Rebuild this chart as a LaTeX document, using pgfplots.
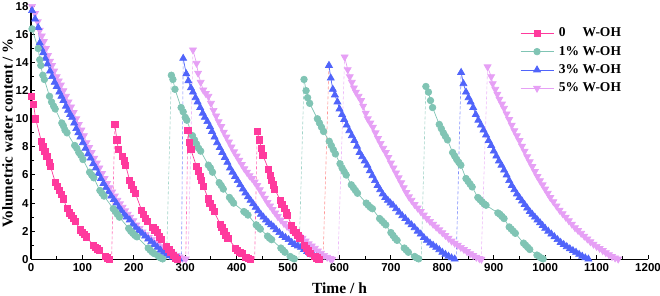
\documentclass[border=0pt]{standalone}
\usepackage{fontspec}
\setmainfont{Liberation Serif}
\setsansfont{Liberation Sans}
\usepackage{pgfplots}
\pgfplotsset{compat=1.18}
\definecolor{c0}{HTML}{FF3A9D}
\definecolor{c1}{HTML}{80C4B4}
\definecolor{c2}{HTML}{5064FA}
\definecolor{c3}{HTML}{E6A0F5}
\definecolor{cr}{HTML}{FF7070}
\pgfplotsset{
 s0/.style={color=c0, mark=square*, mark size=3.1pt, line width=0.7pt},
 s1/.style={color=c1, mark=*, mark size=3.3pt, line width=0.7pt},
 s2/.style={color=c2, mark=triangle*, mark size=4pt, line width=0.7pt},
 s3/.style={color=c3, mark=triangle*, mark options={rotate=180}, mark size=4pt, line width=0.7pt},
 jump/.style={densely dashed, line width=0.6pt, forget plot, no marks, opacity=0.75},
}
\begin{document}
\begin{tikzpicture}
\useasboundingbox (0,0) rectangle (660pt,296pt);
\begin{axis}[
 at={(31pt,36.7pt)}, anchor=south west,
 scale only axis, width=617pt, height=252.9pt,
 xmin=0, xmax=1200, ymin=0, ymax=18,
 clip=false,
 axis x line*=bottom, axis y line*=left,
 axis line style={line width=1.3pt, -},
 xtick distance=100, ytick distance=2,
 minor x tick num=1, minor y tick num=1,
 tick align=inside,
 major tick length=4.5pt, minor tick length=3pt,
 every tick/.style={black, line width=1pt},
 /pgf/number format/assume math mode=true,
 /pgf/number format/1000 sep={},
 tick label style={font=\fontsize{11.5}{12}\selectfont\sffamily\bfseries},
 xticklabel style={yshift=-0.5pt},
 yticklabel style={xshift=1pt},
 xlabel={Time / h},
 ylabel={Volumetric water content / \%},
 xlabel style={font=\fontsize{15.5}{16}\selectfont\bfseries, at={(axis description cs:0.5,0)}, anchor=base, yshift=-34.5pt},
 ylabel style={font=\fontsize{15}{16}\selectfont\bfseries, at={(axis description cs:-0.0297,0.5)}, anchor=base, rotate=0},
 reverse legend,
 legend image code/.code={\draw[mark repeat=2,mark phase=2] plot coordinates {(0pt,0pt) (16.5pt,0pt) (33pt,0pt)};},
 legend style={draw=none, fill=none, at={(0.7925,0.916)}, anchor=north west, inner sep=0pt,
   font=\fontsize{13.5}{14}\selectfont\bfseries,
   nodes={inner sep=0pt, text height=9pt, text depth=2pt},
   row sep=7.3pt, column sep=5pt},
 legend cell align=left,
]
% ---------- 5% W-OH (violet) ----------
\addplot[s3] coordinates {(2,18.0) (8,17.5) (13,16.9) (17,16.3) (21,15.9) (25,15.5) (29,15.0) (33,14.5) (37,14.1) (41,13.8) (45,13.4) (50,13.0) (54,12.7) (58,12.4) (63,12.0) (68,11.6) (73,11.2) (78,10.85) (83,10.45) (88,10.0) (93,9.6) (98,9.2) (103,8.8) (108,8.3) (113,7.95) (118,7.6) (123,7.2) (128,6.85) (133,6.5) (138,6.1) (143,5.75) (148,5.4) (153,5.1) (158,4.8) (163,4.5) (168,4.2) (173,3.95) (178,3.7) (183,3.45) (188,3.2) (193,3.0) (199,2.75) (205,2.45) (211,2.2) (217,1.95) (223,1.75) (229,1.55) (235,1.4) (241,1.2) (247,1.05) (253,0.9) (259,0.75) (265,0.6) (271,0.5) (277,0.38) (283,0.27) (289,0.17) (295,0.08) (301,0.02)};
\addplot[s3, jump] coordinates {(305.6,0) (315,14.9)};
\addplot[s3, forget plot] coordinates {(315,14.9) (322,13.95) (325,13.25) (330,12.6) (335,12.05) (340,11.8) (345,11.6) (350,11.1) (355,10.6) (360,10.2) (365,9.8) (370,9.45) (375,9.05) (380,8.7) (385,8.35) (390,8.0) (395,7.65) (400,7.35) (405,7.05) (410,6.75) (415,6.45) (420,6.2) (425,5.95) (430,5.75) (435,5.5) (440,5.25) (445,4.95) (450,4.65) (455,4.35) (460,4.05) (465,3.8) (470,3.55) (475,3.3) (480,3.05) (486,2.8) (492,2.55) (498,2.35) (504,2.15) (510,1.95) (516,1.8) (522,1.65) (528,1.5) (534,1.3) (540,1.1) (546,0.95) (552,0.78) (558,0.6) (564,0.43) (570,0.28) (576,0.15) (582,0.05) (586,0.01)};
\addplot[s3, jump] coordinates {(597,0) (610,14.4)};
\addplot[s3, forget plot] coordinates {(610,14.4) (616,13.5) (620,13.0) (624,12.6) (628,12.2) (632,11.9) (637,11.6) (642,11.3) (646,10.9) (651,10.4) (655,10.0) (660,9.7) (665,9.4) (670,9.0) (675,8.6) (680,8.25) (685,7.9) (690,7.6) (695,7.25) (700,6.85) (705,6.5) (710,6.15) (715,5.8) (720,5.45) (725,5.1) (730,4.75) (735,4.45) (740,4.2) (746,3.9) (752,3.65) (758,3.4) (764,3.15) (770,2.9) (776,2.7) (782,2.5) (788,2.3) (794,2.1) (800,1.9) (806,1.7) (812,1.5) (818,1.3) (824,1.15) (830,1.0) (836,0.85) (842,0.7) (848,0.55) (854,0.4) (860,0.27) (866,0.15) (872,0.05) (876,0.01)};
\addplot[s3, jump] coordinates {(875.5,0) (888,13.7)};
\addplot[s3, forget plot] coordinates {(888,13.7) (895,13.0) (898,12.5) (903,12.1) (907,11.75) (911,11.4) (916,11.05) (920,10.75) (925,10.35) (930,9.95) (935,9.55) (940,9.15) (945,8.8) (950,8.45) (955,8.05) (960,7.7) (965,7.3) (970,6.95) (975,6.6) (980,6.25) (985,5.9) (990,5.6) (995,5.3) (1000,5.0) (1005,4.7) (1010,4.4) (1016,4.1) (1022,3.8) (1028,3.5) (1034,3.25) (1040,3.0) (1046,2.75) (1052,2.5) (1058,2.25) (1064,2.05) (1070,1.85) (1076,1.65) (1082,1.45) (1088,1.25) (1094,1.08) (1100,0.92) (1106,0.77) (1112,0.62) (1118,0.47) (1124,0.33) (1130,0.2) (1136,0.1) (1142,0.02)};
% ---------- 3% W-OH (blue) ----------
\addplot[s2] coordinates {(2,17.7) (8,17.1) (14,16.5) (17,15.4) (20,15.0) (24,14.7) (28,14.3) (32,13.9) (37,13.4) (41,13.0) (46,12.6) (50,12.3) (55,11.9) (59,11.6) (63,11.3) (68,10.9) (72,10.6) (76,10.3) (80,10.1) (84,9.7) (88,9.3) (92,9.0) (96,8.7) (101,8.3) (106,7.9) (111,7.5) (116,7.2) (121,6.8) (126,6.5) (131,6.1) (136,5.75) (141,5.4) (146,5.1) (151,4.8) (156,4.5) (161,4.25) (166,4.0) (171,3.7) (176,3.45) (181,3.2) (186,3.0) (192,2.8) (198,2.5) (204,2.25) (210,2.05) (216,1.85) (222,1.65) (228,1.45) (234,1.25) (240,1.05) (246,0.85) (252,0.65) (258,0.5) (264,0.36) (270,0.25) (276,0.15) (282,0.07) (288,0.02)};
\addplot[s2, jump] coordinates {(292.7,0) (296,14.3)};
\addplot[s2, forget plot] coordinates {(296,14.3) (302,13.2) (306,12.7) (311,12.2) (315,11.9) (320,11.5) (324,11.2) (329,10.8) (334,10.4) (338,10.1) (343,9.8) (348,9.45) (352,9.1) (357,8.7) (362,8.3) (367,7.95) (372,7.6) (377,7.25) (382,6.9) (387,6.5) (392,6.2) (397,5.9) (402,5.6) (407,5.3) (412,5.0) (417,4.72) (422,4.45) (427,4.2) (432,3.95) (437,3.7) (442,3.45) (447,3.2) (452,3.0) (457,2.8) (462,2.6) (467,2.45) (472,2.3) (477,2.1) (483,1.9) (489,1.7) (495,1.55) (501,1.4) (507,1.2) (513,1.05) (519,0.95) (525,0.85) (531,0.7) (537,0.55) (543,0.4) (549,0.3) (555,0.15) (561,0.03)};
\addplot[cr, jump] coordinates {(568,0) (579.5,13.8)};
\addplot[s2, forget plot] coordinates {(579.5,13.8) (583,12.9) (587,12.1) (591,11.7) (596,11.2) (600,10.7) (605,10.3) (609,9.95) (614,9.55) (619,9.15) (624,8.8) (629,8.45) (634,8.05) (639,7.6) (644,7.3) (649,7.0) (654,6.7) (659,6.3) (664,5.95) (669,5.6) (674,5.25) (679,4.95) (684,4.65) (689,4.4) (694,4.2) (699,4.0) (704,3.85) (710,3.6) (716,3.35) (722,3.1) (728,2.9) (734,2.65) (740,2.45) (746,2.25) (752,2.0) (758,1.8) (764,1.55) (770,1.35) (776,1.15) (782,1.0) (788,0.85) (794,0.68) (800,0.5) (806,0.35) (812,0.22) (818,0.1) (824,0.02)};
\addplot[s2, jump] coordinates {(827,0) (836.5,13.3)};
\addplot[s2, forget plot] coordinates {(836.5,13.3) (841,12.5) (846,11.9) (851,11.5) (855,11.2) (860,10.8) (865,10.3) (870,9.9) (875,9.55) (880,9.2) (885,8.85) (890,8.45) (895,8.1) (900,7.7) (905,7.35) (910,7.0) (915,6.7) (920,6.35) (925,6.0) (930,5.6) (935,5.25) (940,4.95) (945,4.65) (950,4.4) (955,4.15) (960,3.9) (965,3.65) (970,3.4) (975,3.2) (980,3.0) (985,2.8) (990,2.6) (995,2.4) (1000,2.2) (1006,2.0) (1012,1.8) (1018,1.6) (1024,1.4) (1030,1.2) (1036,1.05) (1042,0.9) (1048,0.75) (1054,0.62) (1060,0.5) (1066,0.35) (1072,0.22) (1078,0.1) (1084,0.02)};
% ---------- 1% W-OH (teal) ----------
\addplot[s1] coordinates {(2,16.4) (14,15.0) (17,14.2) (19,13.8) (23,13.1) (26,12.8) (36,11.6) (40,11.2) (44,10.9) (47,10.7) (60,9.7) (63,9.5) (66,9.2) (70,9.0) (85,8.1) (89,7.9) (93,7.6) (97,7.4) (101,7.1) (114,6.2) (118,6.0) (122,5.8) (134,4.9) (138,4.7) (142,4.5) (160,3.6) (164,3.4) (168,3.2) (172,3.0) (190,2.2) (194,2.0) (198,1.85) (202,1.7) (206,1.6) (228,0.8) (232,0.65) (236,0.5) (240,0.4) (248,0.2) (252,0.1) (256,0.03)};
\addplot[s1, jump] coordinates {(263.6,0) (273,13.1)};
\addplot[s1, forget plot] coordinates {(273,13.1) (276,12.8) (280,12.1) (292,10.8) (296,10.5) (300,10.1) (303,9.9) (314,8.8) (318,8.5) (322,8.2) (326,7.9) (330,7.7) (345,6.7) (349,6.5) (353,6.2) (366,5.45) (370,5.25) (374,5.0) (386,4.4) (390,4.2) (394,4.0) (414,3.4) (418,3.3) (422,3.15) (438,2.45) (442,2.3) (446,2.15) (460,1.65) (464,1.5) (468,1.4) (486,0.8) (490,0.65) (494,0.5) (504,0.2) (508,0.1) (512,0.03)};
\addplot[s1, jump] coordinates {(521,0) (531,12.8)};
\addplot[s1, forget plot] coordinates {(531,12.8) (535,12.0) (538,11.5) (542,11.1) (557,10.0) (561,9.7) (565,9.4) (569,9.1) (580,8.4) (584,8.1) (588,7.8) (592,7.5) (601,6.8) (605,6.5) (609,6.25) (613,6.0) (623,5.3) (627,5.1) (631,4.9) (635,4.7) (652,4.0) (656,3.85) (660,3.7) (664,3.6) (678,2.9) (682,2.75) (686,2.6) (690,2.45) (700,1.9) (704,1.7) (708,1.5) (712,1.35) (726,0.8) (730,0.65) (734,0.5) (746,0.2) (750,0.1) (754,0.03)};
\addplot[s1, jump] coordinates {(759,0) (768,12.3)};
\addplot[s1, forget plot] coordinates {(768,12.3) (773,11.9) (777,11.3) (781,10.8) (794,9.6) (798,9.3) (802,9.0) (806,8.75) (810,8.5) (820,7.6) (824,7.35) (828,7.1) (832,6.9) (836,6.7) (846,5.75) (850,5.55) (854,5.35) (858,5.15) (869,4.4) (873,4.25) (877,4.1) (881,3.95) (885,3.85) (908,3.3) (912,3.2) (916,3.05) (920,2.9) (930,2.3) (934,2.15) (938,2.0) (942,1.85) (958,1.15) (962,1.0) (966,0.85) (970,0.7) (984,0.3) (988,0.2) (992,0.1) (996,0.03)};
% ---------- 0 W-OH (pink) ----------
\addplot[s0] coordinates {(1,11.6) (5,11.0) (9,10.0) (20,8.4) (23,8.0) (27,7.7) (31,7.3) (35,6.9) (38,6.6) (47,5.5) (51,5.2) (55,4.9) (59,4.6) (63,4.3) (70,3.6) (74,3.3) (78,3.1) (82,2.9) (86,2.7) (96,2.1) (100,1.9) (104,1.75) (108,1.6) (121,1.0) (125,0.85) (129,0.75) (133,0.62) (144,0.2) (148,0.1) (152,0.02)};
\addplot[s0, jump] coordinates {(156.7,0) (163,9.6)};
\addplot[s0, forget plot] coordinates {(163,9.6) (167,8.5) (170,7.8) (178,7.3) (181,7.0) (184,6.7) (192,5.6) (195,5.3) (199,5.0) (203,4.7) (215,3.5) (219,3.2) (223,2.9) (227,2.7) (237,2.3) (241,2.1) (245,1.9) (250,1.6) (254,1.4) (264,0.9) (268,0.7) (272,0.5) (277,0.3) (281,0.1) (284,0.02)};
\addplot[s0, jump] coordinates {(301,0) (305,9.2)};
\addplot[s0, forget plot] coordinates {(305,9.2) (308,8.3) (311,7.8) (322,6.6) (325,6.3) (329,5.9) (332,5.6) (335,5.2) (345,4.3) (348,4.0) (352,3.7) (356,3.4) (368,2.5) (371,2.3) (375,2.0) (379,1.7) (383,1.5) (398,0.8) (402,0.65) (406,0.5) (410,0.4) (418,0.15) (422,0.07) (426,0.02)};
\addplot[s0, jump] coordinates {(435,0) (440,9.1)};
\addplot[s0, forget plot] coordinates {(440,9.1) (444,8.5) (448,7.9) (451,7.4) (462,6.4) (465,6.0) (468,5.6) (471,5.3) (474,5.0) (485,4.2) (488,3.9) (492,3.6) (496,3.3) (499,3.1) (507,2.4) (511,2.1) (515,1.9) (519,1.7) (523,1.5) (531,1.0) (535,0.8) (539,0.6) (543,0.45) (552,0.2) (556,0.1) (560,0.02)};
\legend{5\% W-OH, 3\% W-OH, 1\% W-OH, 0\phantom{\%} W-OH}
\end{axis}
\end{tikzpicture}
\end{document}
